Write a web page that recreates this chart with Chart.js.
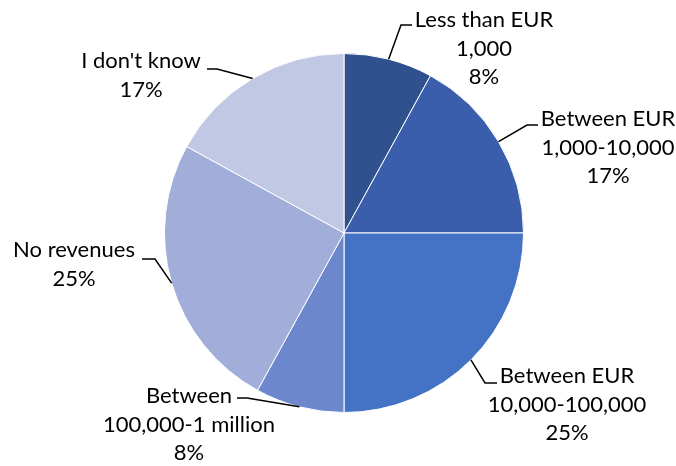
<!DOCTYPE html>
<html>
<head>
<meta charset="utf-8">
<title>Revenues</title>
<script src="https://cdn.jsdelivr.net/npm/chart.js@4"></script>
<style>
  html, body { margin: 0; padding: 0; background: #fff; }
</style>
</head>
<body>
<canvas id="revenueChart" width="676" height="466"></canvas>
<script>
// slices, clockwise from 12 o'clock
const categories = [
    ['Less than EUR', '1,000'],
    ['Between EUR', '1,000-10,000'],
    ['Between EUR', '10,000-100,000'],
    ['Between', '100,000-1 million'],
    ['No revenues'],
    ["I don't know"]
];
const shares = [8, 17, 25, 8, 25, 17];
const sliceColors = ['#2f528f', '#3a5eab', '#4472c4', '#6c87cb', '#a0aed9', '#c0c8e4'];

// label placement relative to the pie centre:
// text = [centre x, first baseline], elbow/end = leader line knee and tip
const labelSpots = [
    { text: [140, -206], elbow: [57, -208], end: [68, -208] },
    { text: [264, -107], elbow: [183, -108], end: [194, -108] },
    { text: [223, 150], elbow: [141, 150], end: [153, 150] },
    { text: [-155, 170], elbow: [-97, 165], end: [-107, 165] },
    { text: [-270, 24], elbow: [-189, 26], end: [-202, 26] },
    { text: [-203, -165], elbow: [-127, -164], end: [-137, -164] }
];

const FONT = '22px Lato, "Noto Sans", sans-serif';
const LINE_GAP = 28.5;

const leaderLabels = {
    id: 'leaderLabels',
    afterDatasetsDraw(chart) {
        const ctx = chart.ctx;
        const meta = chart.getDatasetMeta(0);
        ctx.save();
        ctx.font = FONT;
        ctx.fillStyle = '#000';
        ctx.strokeStyle = '#000';
        ctx.lineWidth = 1.5;
        ctx.textAlign = 'center';
        ctx.textBaseline = 'alphabetic';
        meta.data.forEach((arc, i) => {
            const p = arc.getProps(['x', 'y', 'startAngle', 'endAngle', 'outerRadius'], true);
            const mid = (p.startAngle + p.endAngle) / 2;
            const spot = labelSpots[i];
            // leader from the rim at the slice's mid angle
            ctx.beginPath();
            ctx.moveTo(p.x + Math.cos(mid) * p.outerRadius, p.y + Math.sin(mid) * p.outerRadius);
            ctx.lineTo(p.x + spot.elbow[0], p.y + spot.elbow[1]);
            ctx.lineTo(p.x + spot.end[0], p.y + spot.end[1]);
            ctx.stroke();

            const lines = categories[i].concat(shares[i] + '%');
            lines.forEach((t, k) => {
                ctx.fillText(t, p.x + spot.text[0], p.y + spot.text[1] + k * LINE_GAP);
            });
        });
        ctx.restore();
    }
};

new Chart(document.getElementById('revenueChart'), {
    type: 'pie',
    data: {
        labels: categories.map(c => c.join(' ')),
        datasets: [{
            data: shares,
            backgroundColor: sliceColors,
            borderColor: '#ffffff',
            borderWidth: 1
        }]
    },
    options: {
        responsive: false,
        animation: false,
        layout: { padding: { left: 164, right: 152, top: 53, bottom: 53 } },
        plugins: {
            legend: { display: false },
            tooltip: { enabled: false }
        }
    },
    plugins: [leaderLabels]
});
</script>
</body>
</html>
